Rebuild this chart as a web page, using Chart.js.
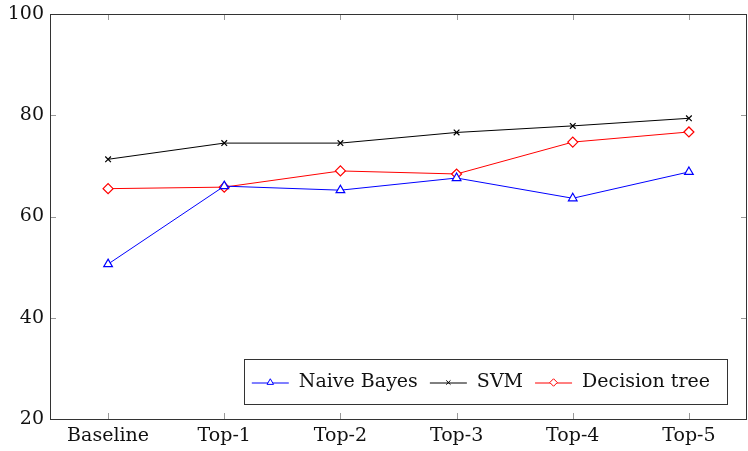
<!DOCTYPE html>
<html>
<head>
<meta charset="utf-8">
<script src="https://cdn.jsdelivr.net/npm/chart.js@4/dist/chart.umd.min.js"></script>
<style>
  html, body { margin: 0; padding: 0; background: #fff; }
  #wrap { width: 748px; height: 451px; }
</style>
</head>
<body>
<div id="wrap"><canvas id="lineChart" width="748" height="451"></canvas></div>
<script>
const labels = ["Baseline", "Top-1", "Top-2", "Top-3", "Top-4", "Top-5"];
const naiveBayes = [50.6, 66.0, 65.2, 67.6, 63.6, 68.8];
const svm = [71.3, 74.5, 74.5, 76.6, 77.9, 79.4];
const decisionTree = [65.5, 65.8, 69.0, 68.4, 74.7, 76.7];
const yTicks = [20, 40, 60, 80, 100];

const FONT = "'DejaVu Serif', 'Liberation Serif', serif";
const FONT_SIZE = 19;

// labels may stick out of the plot box; don't let them shrink it
function noOverflow(scale) {
  scale.paddingTop = 0;
  scale.paddingBottom = 0;
  scale.paddingLeft = 0;
  scale.paddingRight = 0;
}

// box around the plot, with pgfplots-style inward ticks on all four sides
const axisBox = {
  id: 'axisBox',
  beforeDatasetsDraw(chart) {
    const { ctx, chartArea: a, scales } = chart;
    ctx.save();
    ctx.strokeStyle = '#999';
    ctx.lineWidth = 1;
    const len = 6;
    ctx.beginPath();
    labels.forEach((l, i) => {
      const x = Math.round(scales.x.getPixelForValue(i)) + 0.5;
      ctx.moveTo(x, a.bottom); ctx.lineTo(x, a.bottom - len);
      ctx.moveTo(x, a.top); ctx.lineTo(x, a.top + len);
    });
    yTicks.forEach(v => {
      const y = Math.round(scales.y.getPixelForValue(v)) + 0.5;
      ctx.moveTo(a.left, y); ctx.lineTo(a.left + len, y);
      ctx.moveTo(a.right, y); ctx.lineTo(a.right - len, y);
    });
    ctx.stroke();
    ctx.strokeStyle = '#333';
    ctx.strokeRect(Math.round(a.left) + 0.5, Math.round(a.top) + 0.5,
                   Math.round(a.right - a.left) - 1, Math.round(a.bottom - a.top));
    ctx.restore();
  }
};

// legend box in the lower right corner of the plot
const innerLegend = {
  id: 'innerLegend',
  afterDraw(chart) {
    const { ctx, chartArea: a } = chart;
    const sample = 37, gapText = 10, gapEntry = 12, padL = 8, padR = 17;
    ctx.save();
    ctx.font = FONT_SIZE + 'px ' + FONT;
    const items = chart.data.datasets.map(ds => ({ ds, w: ctx.measureText(ds.label).width }));
    let total = padL + padR;
    items.forEach((it, i) => { total += sample + gapText + it.w + (i < items.length - 1 ? gapEntry : 0); });
    const right = a.right - 20, bottom = a.bottom - 15, h = 45;
    const left = right - total, top = bottom - h;
    ctx.fillStyle = '#fff';
    ctx.fillRect(left, top, total, h);
    ctx.strokeStyle = '#333';
    ctx.lineWidth = 1;
    ctx.strokeRect(Math.round(left) + 0.5, Math.round(top) + 0.5, Math.round(total), h);
    const cy = top + h / 2 + 1;
    let x = left + padL;
    items.forEach(it => {
      const ds = it.ds;
      ctx.strokeStyle = ds.borderColor;
      ctx.lineWidth = 1;
      ctx.beginPath();
      ctx.moveTo(x, cy + 0.5); ctx.lineTo(x + sample, cy + 0.5);
      ctx.stroke();
      ctx.fillStyle = '#fff';
      Chart.helpers.drawPoint(ctx, {
        pointStyle: ds.pointStyle, radius: ds.pointRadius * 0.75, rotation: 0,
        borderWidth: 1
      }, x + sample / 2, cy);
      ctx.fillStyle = '#111';
      ctx.textBaseline = 'middle';
      ctx.textAlign = 'left';
      ctx.fillText(ds.label, x + sample + gapText, cy);
      x += sample + gapText + it.w + gapEntry;
    });
    ctx.restore();
  }
};

const CHART = document.getElementById("lineChart");
let lineChart = new Chart(CHART, {
  type: 'line',
  data: {
    labels: labels,
    datasets: [
      {
        label: 'Naive Bayes',
        data: naiveBayes,
        borderColor: '#0000ff',
        pointBorderColor: '#0000ff',
        pointBackgroundColor: '#ffffff',
        pointStyle: 'triangle',
        pointRadius: 5,
        borderWidth: 1,
        pointBorderWidth: 1.2
      },
      {
        label: 'SVM',
        data: svm,
        borderColor: '#000000',
        pointBorderColor: '#000000',
        pointBackgroundColor: '#ffffff',
        pointStyle: 'crossRot',
        pointRadius: 4,
        borderWidth: 1,
        pointBorderWidth: 1.2
      },
      {
        label: 'Decision tree',
        data: decisionTree,
        borderColor: '#ff0000',
        pointBorderColor: '#ff0000',
        pointBackgroundColor: '#ffffff',
        pointStyle: 'rectRot',
        pointRadius: 5,
        borderWidth: 1,
        pointBorderWidth: 1.2
      }
    ]
  },
  options: {
    responsive: false,
    animation: false,
    layout: { autoPadding: false, padding: { top: 14, right: 1, left: 0, bottom: 0 } },
    plugins: {
      legend: { display: false },
      tooltip: { enabled: false }
    },
    scales: {
      x: {
        type: 'category',
        offset: true,
        grid: { display: false, drawTicks: false },
        border: { display: false },
        ticks: { color: '#111', padding: 6, font: { family: FONT, size: FONT_SIZE } },
        afterFit(scale) { scale.height = 32; noOverflow(scale); }
      },
      y: {
        min: 20,
        max: 100,
        grid: { display: false, drawTicks: false },
        border: { display: false },
        afterBuildTicks(scale) { scale.ticks = yTicks.map(v => ({ value: v })); },
        ticks: { color: '#111', padding: 6, font: { family: FONT, size: FONT_SIZE } },
        afterFit(scale) { scale.width = 50; noOverflow(scale); }
      }
    }
  },
  plugins: [axisBox, innerLegend]
});
</script>
</body>
</html>
